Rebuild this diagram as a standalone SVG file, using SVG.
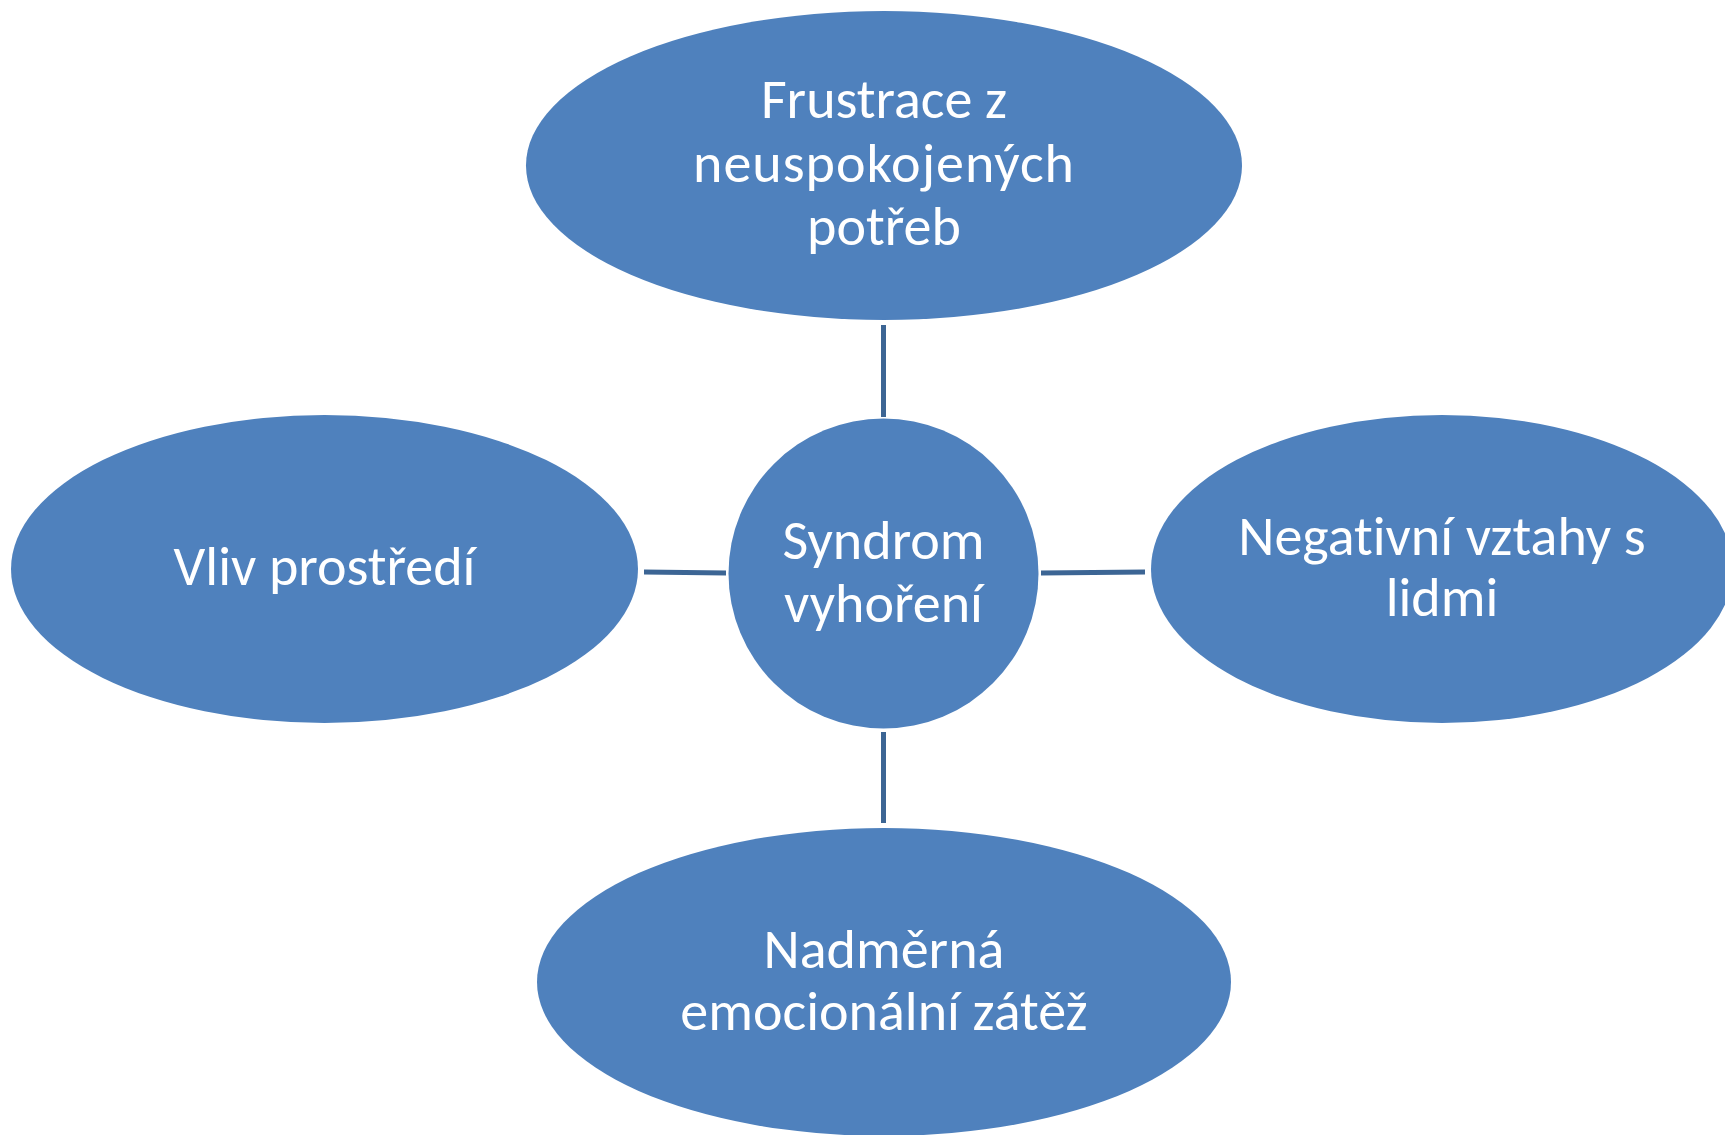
<svg xmlns="http://www.w3.org/2000/svg" width="1725" height="1135" viewBox="0 0 1725 1135">
<style>
.node{fill:#4F81BD;}
.lbl{font-family:"Carlito","Lato","Liberation Sans",sans-serif;font-size:56px;fill:#FFFFFF;text-anchor:middle;font-variant-ligatures:none;font-feature-settings:"liga" 0;}
.conn{stroke:#3C6594;stroke-width:5;fill:none;}
</style>
<rect width="1725" height="1135" fill="#FFFFFF"/>
<g id="connectors">
<line class="conn" x1="883.5" y1="325" x2="883.5" y2="417"/>
<line class="conn" x1="883.5" y1="732" x2="883.5" y2="823"/>
<line class="conn" x1="644" y1="572" x2="726" y2="573"/>
<line class="conn" x1="1041" y1="573" x2="1145" y2="572"/>
</g>
<g id="node-top">
<ellipse class="node" cx="884" cy="165.5" rx="358" ry="154.5"/>
<text class="lbl" x="884" y="118">Frustrace z</text>
<text class="lbl" x="884" y="181.5" letter-spacing="1">neuspokojených</text>
<text class="lbl" x="884" y="245">potřeb</text>
</g>
<g id="node-left">
<ellipse class="node" cx="324.5" cy="569" rx="313.5" ry="154"/>
<text class="lbl" x="324.5" y="585">Vliv prostředí</text>
</g>
<g id="node-right">
<ellipse class="node" cx="1442" cy="569" rx="291" ry="154"/>
<text class="lbl" x="1442" y="555">Negativní vztahy s</text>
<text class="lbl" x="1442" y="616">lidmi</text>
</g>
<g id="node-bottom">
<ellipse class="node" cx="884" cy="982" rx="347" ry="154"/>
<text class="lbl" x="884" y="968">Nadměrná</text>
<text class="lbl" x="884" y="1030">emocionální zátěž</text>
</g>
<g id="node-center">
<circle class="node" cx="883.5" cy="573.5" r="155"/>
<text class="lbl" x="883.5" y="559">Syndrom</text>
<text class="lbl" x="883.5" y="622">vyhoření</text>
</g>
</svg>
